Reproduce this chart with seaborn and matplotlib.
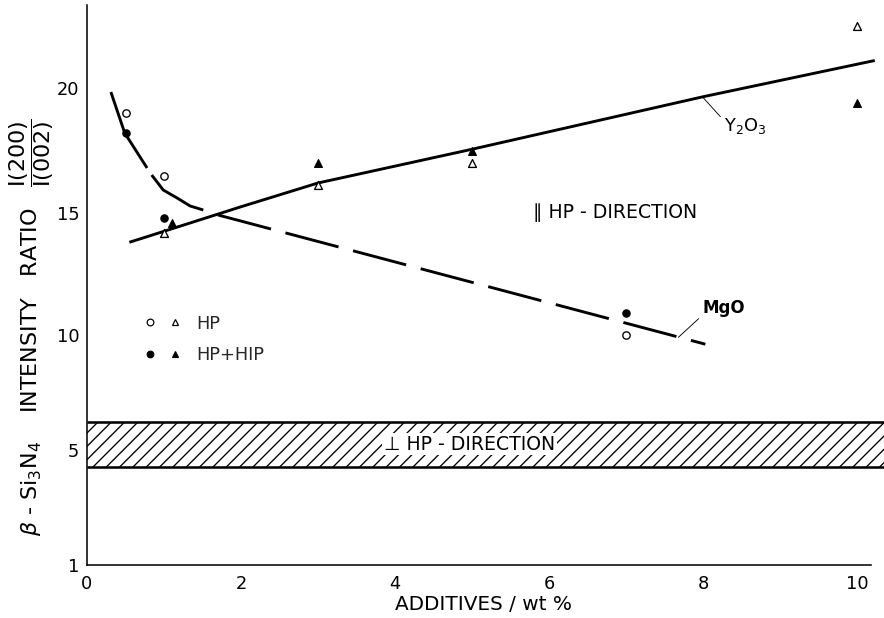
import numpy as np
import matplotlib
matplotlib.use("Agg")
import matplotlib.pyplot as plt
import seaborn as sns
from matplotlib.legend_handler import HandlerTuple
from matplotlib.lines import Line2D

# Intensity ratio I(200)/I(002) of beta-Si3N4 versus additive content
# open symbols: hot pressed (HP); filled symbols: HP + HIP
hp_mgo_x = [0.5, 1.0, 7.0]
hp_mgo_y = [19.0, 16.5, 10.0]
hip_mgo_x = [0.5, 1.0, 7.0]
hip_mgo_y = [18.2, 14.8, 10.9]
hp_y2o3_x = [1.0, 3.0, 5.0, 10.0]
hp_y2o3_y = [14.2, 16.1, 17.0, 22.5]
hip_y2o3_x = [1.1, 3.0, 5.0, 10.0]
hip_y2o3_y = [14.6, 17.0, 17.5, 19.4]

# trend curves drawn through the data
y2o3_curve_x = [0.55, 1.0, 2.0, 3.0, 5.0, 8.0, 10.23]
y2o3_curve_y = [13.8, 14.25, 15.25, 16.2, 17.55, 19.65, 21.1]
mgo_curve_x = [0.31, 0.49, 0.78, 0.84, 0.99, 1.17, 1.34, 1.51, 1.70, 8.03]
mgo_curve_y = [19.84, 18.2, 16.8, 16.52, 15.92, 15.6, 15.28, 15.12, 14.92, 9.6]

# range of ratios measured perpendicular to the pressing direction
perp_band = (4.4, 6.2)

x_ticks = [0, 2, 4, 6, 8, 10]
y_ticks = [1, 5, 10, 15, 20]

# graduation of the ordinate (value -> relative height), slightly uneven
scale_values = [0, 1, 5, 10, 15, 20, 30]
scale_heights = [-28.75, 0, 115, 230, 352, 477, 727]


def fwd(v):
    return np.interp(v, scale_values, scale_heights)


def inv(h):
    return np.interp(h, scale_heights, scale_values)


sns.set_theme(style="white")
plt.rcParams["font.family"] = ["DejaVu Sans"]
plt.rcParams["mathtext.fontset"] = "dejavusans"
plt.rcParams["hatch.linewidth"] = 1.2

DPI = 80
fig = plt.figure(figsize=(884 / DPI, 618 / DPI), dpi=DPI)
ax = fig.add_axes([87 / 884, 53 / 618, 797 / 884, 560 / 618])

LW = 2.6
ink = "black"

# hatched band
ax.fill_between([0, 10.35], perp_band[0], perp_band[1], facecolor="none",
                edgecolor=ink, hatch="//", linewidth=0)
ax.hlines(perp_band, 0, 10.35, colors=ink, linewidth=2.3)

# Y2O3 curve
sns.lineplot(x=y2o3_curve_x, y=y2o3_curve_y, ax=ax, color=ink, linewidth=LW,
             sort=False, estimator=None)

# MgO curve: solid near the origin, long dashes further on
sns.lineplot(x=mgo_curve_x[:3], y=mgo_curve_y[:3], ax=ax, color=ink,
             linewidth=LW, sort=False, estimator=None)
sns.lineplot(x=mgo_curve_x[3:8], y=mgo_curve_y[3:8], ax=ax, color=ink,
             linewidth=LW, sort=False, estimator=None)
sns.lineplot(x=mgo_curve_x[8:], y=mgo_curve_y[8:], ax=ax, color=ink,
             linewidth=LW, sort=False, estimator=None)
ax.lines[-1].set_linestyle((0, (19, 5.2)))
for ln in ax.lines:
    ln.set_solid_capstyle("butt")
    ln.set_dash_capstyle("butt")
    ln.set_solid_joinstyle("round")

# data points
ms_c, ms_t = 44, 50
sns.scatterplot(x=hp_mgo_x, y=hp_mgo_y, ax=ax, marker="o", s=ms_c,
                color="white", edgecolor=ink, linewidth=1.2, zorder=4)
sns.scatterplot(x=hip_mgo_x, y=hip_mgo_y, ax=ax, marker="o", s=ms_c,
                color=ink, edgecolor=ink, linewidth=1.0, zorder=4)
sns.scatterplot(x=hp_y2o3_x, y=hp_y2o3_y, ax=ax, marker="^", s=ms_t,
                color="white", edgecolor=ink, linewidth=1.2, zorder=4)
sns.scatterplot(x=hip_y2o3_x, y=hip_y2o3_y, ax=ax, marker="^", s=ms_t,
                color=ink, edgecolor=ink, linewidth=1.0, zorder=4)

# axes
ax.set_yscale("function", functions=(fwd, inv))
ax.set_xlim(0, 10.35)
ax.set_ylim(1, 23.32)
ax.set_xticks(x_ticks)
ax.set_yticks(y_ticks)
ax.set_xticklabels([str(t) for t in x_ticks])
ax.set_yticklabels([str(t) for t in y_ticks])
ax.minorticks_off()
for side in ("top", "right"):
    ax.spines[side].set_visible(False)
for side in ("left", "bottom"):
    ax.spines[side].set_color(ink)
    ax.spines[side].set_linewidth(1.4)
ax.spines["bottom"].set_bounds(0, 10.18)
ax.tick_params(axis="both", direction="in", length=4, width=1.2,
               color=ink, labelsize=16, labelcolor=ink)
ax.tick_params(axis="y", pad=7)
ax.tick_params(axis="x", pad=9)
ax.grid(False)

ax.set_xlabel("ADDITIVES / wt %", fontsize=18, color=ink)
ax.xaxis.set_label_coords(0.497, -0.054)
ax.set_ylabel(r"$\beta$ - Si$_3$N$_4$    INTENSITY   RATIO   "
              r"$\dfrac{\mathrm{I(200)}}{\mathrm{I(002)}}$",
              fontsize=20, color=ink)
ax.yaxis.set_label_coords(-0.039, 0.424)

# annotations
ax.text(5.79, 15.0, "\u2225 HP - DIRECTION", fontsize=17, color=ink,
        ha="left", va="center")
ax.text(4.97, 5.25, "\u22a5 HP - DIRECTION", fontsize=17, color=ink,
        ha="center", va="center",
        bbox=dict(facecolor="white", edgecolor="none", pad=1.5), zorder=5)

ax.annotate(r"Y$_2$O$_3$", xy=(8.0, 19.62), xytext=(8.27, 18.5),
            fontsize=16, color=ink, ha="left", va="center",
            arrowprops=dict(arrowstyle="-", lw=0.8, color=ink,
                            shrinkA=1, shrinkB=0, relpos=(0, 0.75)))
ax.annotate("MgO", xy=(7.68, 9.9), xytext=(7.99, 11.1),
            fontsize=15, color=ink, ha="left", va="center",
            fontweight="bold",
            arrowprops=dict(arrowstyle="-", lw=0.8, color=ink,
                            shrinkA=1, shrinkB=0, relpos=(0, 0.1)))

# legend with paired symbols
h_hp = (Line2D([], [], ls="none", marker="o", ms=6, mfc="white", mec=ink, mew=1.1),
        Line2D([], [], ls="none", marker="^", ms=6, mfc="white", mec=ink, mew=1.1))
h_hip = (Line2D([], [], ls="none", marker="o", ms=6, mfc=ink, mec=ink),
         Line2D([], [], ls="none", marker="^", ms=6, mfc=ink, mec=ink))
ax.legend(handles=[h_hp, h_hip], labels=["HP", "HP+HIP"],
          handler_map={tuple: HandlerTuple(ndivide=None, pad=0.9)},
          frameon=False, loc="upper left", bbox_to_anchor=(0.074, 0.447),
          borderaxespad=0, borderpad=0, handlelength=1.9, handletextpad=0.9,
          labelspacing=0.75, fontsize=16)

fig.savefig("out.png", dpi=DPI, facecolor="white")
